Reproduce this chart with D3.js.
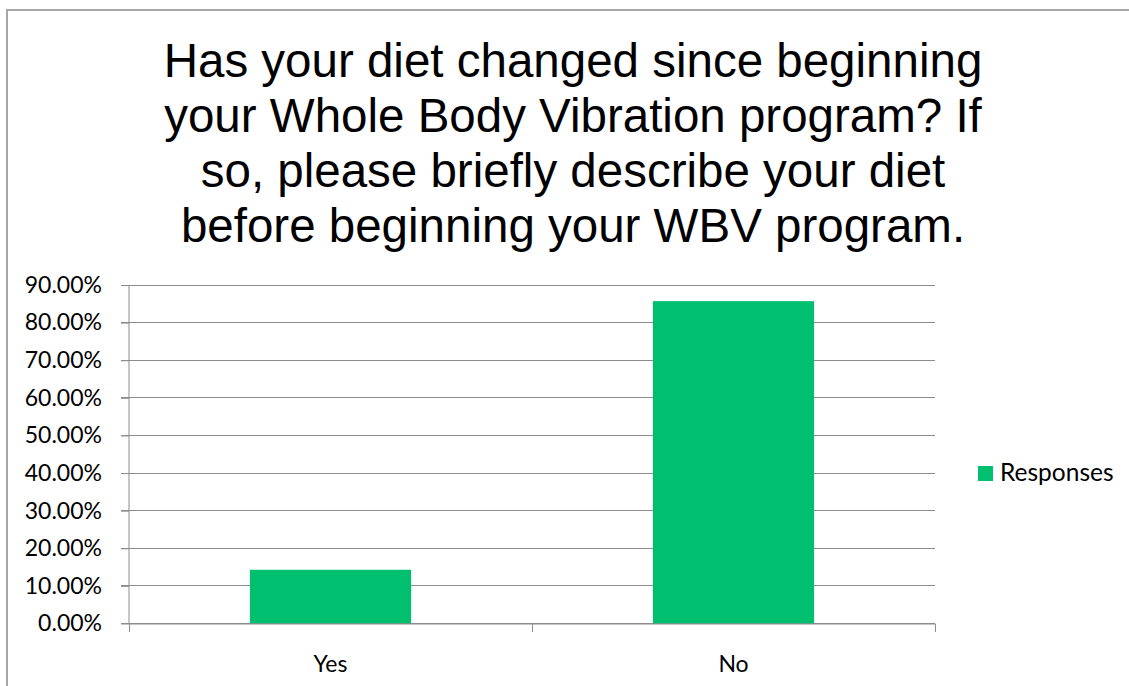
<!DOCTYPE html>
<html>
<head>
<meta charset="utf-8">
<script src="https://cdn.jsdelivr.net/npm/d3@7"></script>
<style>
  body { margin: 0; background: #fff; }
</style>
</head>
<body>
<div id="chart"></div>
<script>
const titleLines = [
  "Has your diet changed since beginning",
  "your Whole Body Vibration program? If",
  "so, please briefly describe your diet",
  "before beginning your WBV program."
]
const categories = ["Yes", "No"]
const responses = [0.1429, 0.8571]
const yTicks = [0, 0.1, 0.2, 0.3, 0.4, 0.5, 0.6, 0.7, 0.8, 0.9]
const seriesName = "Responses"

const width = 1129, height = 686
const plot = {left: 129, right: 935, top: 285, bottom: 623.5}
const labelFont = "Lato, Calibri, sans-serif"

const svg = d3.select("#chart")
  .append("svg")
  .attr("width", width)
  .attr("height", height)

// chart border
svg.append("rect")
  .attr("x", 7).attr("y", 10)
  .attr("width", 1140).attr("height", 700)
  .attr("fill", "none")
  .attr("stroke", "#a6a6a6")
  .attr("stroke-width", 2)

const title = svg.append("text")
  .attr("text-anchor", "middle")
  .style("font-family", "Arial, 'Liberation Sans', sans-serif")
  .style("font-size", "47.5px")
  .attr("fill", "#000")
titleLines.forEach((t, i) => {
  title.append("tspan")
    .attr("x", 573)
    .attr("y", 77 + i * 55)
    .text(t)
})

const x = d3.scaleBand().domain(categories).range([plot.left, plot.right]).paddingInner(0).paddingOuter(0)
const y = d3.scaleLinear().domain([0, 0.9]).range([plot.bottom, plot.top])

// gridlines
svg.append("g")
  .selectAll("line")
  .data(yTicks)
  .enter()
  .append("line")
  .attr("x1", plot.left - 8)
  .attr("x2", plot.right)
  .attr("y1", d => y(d))
  .attr("y2", d => y(d))
  .attr("stroke", "#8c8c8c")
  .attr("stroke-width", 1)
  .attr("shape-rendering", "crispEdges")

// bars
const bw = x.bandwidth() * 0.4
svg.append("g")
  .selectAll("rect")
  .data(categories)
  .enter()
  .append("rect")
  .attr("x", d => x(d) + (x.bandwidth() - bw) / 2)
  .attr("y", (d, i) => y(responses[i]))
  .attr("width", bw)
  .attr("height", (d, i) => y(0) - y(responses[i]))
  .style("fill", "#00bf6f")

// y axis
const yAxis = svg.append("g")
  .attr("transform", `translate(${plot.left},0)`)
  .call(d3.axisLeft(y).tickValues(yTicks).tickFormat(d3.format(".2%")).tickSize(8).tickPadding(19))
yAxis.select(".domain").attr("stroke", "#8c8c8c").attr("d", `M0,${plot.top}V${plot.bottom}`)
yAxis.selectAll(".tick line").attr("stroke", "#8c8c8c")
yAxis.selectAll("text")
  .style("font-family", labelFont)
  .style("font-size", "23px")
  .attr("fill", "#000")

// x axis
const xAxis = svg.append("g")
  .attr("transform", `translate(0,${plot.bottom})`)
  .call(d3.axisBottom(x).tickSize(0).tickPadding(32))
xAxis.select(".domain").attr("stroke", "#8c8c8c")
xAxis.selectAll("text")
  .style("font-family", labelFont)
  .style("font-size", "23px")
  .attr("fill", "#000")

// category separators
const seps = [plot.left, plot.left + x.bandwidth(), plot.right]
svg.append("g")
  .selectAll("line")
  .data(seps)
  .enter()
  .append("line")
  .attr("x1", d => d).attr("x2", d => d)
  .attr("y1", plot.bottom).attr("y2", plot.bottom + 8)
  .attr("stroke", "#8c8c8c")
  .attr("shape-rendering", "crispEdges")

// legend
const legend = svg.append("g").attr("transform", "translate(978,466)")
legend.append("rect")
  .attr("width", 15).attr("height", 15)
  .style("fill", "#00bf6f")
legend.append("text")
  .attr("x", 22).attr("y", 15)
  .style("font-family", labelFont)
  .style("font-size", "24.5px")
  .attr("fill", "#000")
  .text(seriesName)
</script>
</body>
</html>
